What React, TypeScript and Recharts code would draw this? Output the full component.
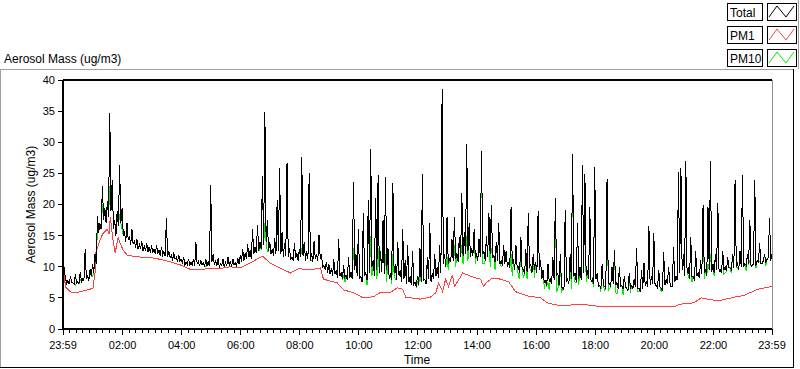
import React from 'react';
import { LineChart, Line, XAxis, YAxis, ReferenceLine } from 'recharts';

// ---- data ----
const seriesNames = ['Total', 'PM1', 'PM10'];
const timeLabels = ['23:59', '02:00', '04:00', '06:00', '08:00', '10:00', '12:00', '14:00', '16:00', '18:00', '20:00', '22:00', '23:59'];
const majorTickMinutes = [0, 121, 241, 361, 481, 601, 721, 841, 961, 1081, 1201, 1321, 1440];
const yTicks = [0, 5, 10, 15, 20, 25, 30, 35, 40];
const sampleStepMin = 5;

// Total aerosol mass read every 5 minutes from 23:59 (local peaks / levels)
const totalValues = [
  12.3, 8.2, 7.8, 8.5, 7.4, 8.8, 7.6, 9.2, 8.0, 12.8, 8.5, 9.6,
  10.5, 12.0, 18.2, 17.0, 23.0, 19.5, 20.5, 34.7, 24.0, 17.5, 19.0, 26.3,
  19.5, 15.5, 17.0, 15.0, 16.0, 14.2, 14.5, 13.6, 14.2, 13.3, 13.8, 13.2,
  13.4, 12.8, 13.5, 12.7, 13.2, 12.4, 17.8, 12.5, 11.8, 12.3, 11.5, 11.9,
  11.2, 11.6, 10.8, 11.3, 10.7, 11.2, 13.9, 10.9, 11.0, 10.6, 11.2, 10.8,
  23.2, 12.0, 11.0, 11.4, 10.5, 11.2, 10.7, 11.6, 10.9, 11.3, 10.6, 11.4,
  11.8, 12.8, 12.2, 13.6, 12.6, 16.0, 13.2, 16.7, 14.0, 24.5, 34.8, 17.5,
  14.0, 12.8, 14.6, 20.7, 25.9, 15.6, 13.8, 26.7, 13.0, 11.5, 13.8, 12.2,
  12.8, 27.6, 14.0, 12.5, 25.0, 12.2, 14.2, 12.0, 15.1, 11.8, 10.2, 10.8,
  10.5, 9.8, 11.2, 9.5, 14.5, 9.0, 10.2, 8.6, 11.5, 9.2, 23.6, 12.0,
  16.0, 8.5, 18.6, 9.0, 20.7, 28.9, 11.0, 21.0, 24.7, 12.5, 17.5, 24.4,
  13.0, 9.0, 23.4, 10.5, 14.0, 9.5, 16.0, 11.0, 13.5, 8.5, 12.5, 7.5,
  8.5, 13.0, 24.9, 8.0, 11.5, 17.0, 9.0, 12.0, 10.0, 13.5, 38.6, 12.0,
  18.0, 11.2, 14.5, 18.0, 12.2, 14.8, 21.8, 15.5, 29.7, 17.0, 13.0, 16.0,
  12.0, 14.5, 28.6, 12.5, 15.0, 18.6, 19.9, 11.8, 14.0, 17.0, 11.0, 13.5,
  12.5, 10.5, 19.6, 11.0, 13.5, 10.0, 14.8, 9.5, 12.8, 18.6, 10.5, 12.0,
  10.8, 19.0, 11.0, 9.5, 7.8, 10.5, 8.0, 11.5, 21.0, 9.0, 12.0, 6.5,
  19.1, 8.0, 12.0, 28.1, 9.0, 17.0, 10.0, 26.3, 24.9, 9.5, 19.6, 8.0,
  26.0, 9.0, 7.0, 10.5, 6.8, 24.1, 7.2, 10.0, 12.7, 7.5, 10.0, 7.0,
  8.5, 6.5, 9.0, 7.0, 8.0, 13.0, 6.5, 9.5, 10.6, 7.5, 16.5, 8.5,
  15.4, 7.0, 9.5, 6.5, 12.4, 8.0, 10.0, 6.8, 13.2, 8.5, 25.2, 25.8,
  12.0, 27.0, 10.0, 14.8, 8.5, 12.5, 9.0, 11.0, 19.9, 9.5, 19.6, 27.0,
  10.5, 12.0, 20.2, 9.5, 12.5, 10.0, 11.5, 9.8, 12.0, 23.9, 10.5, 12.5,
  24.7, 10.5, 12.0, 17.5, 10.2, 23.9, 11.0, 13.8, 10.5, 12.0, 11.2, 17.8, 12.0,
];

// Total aerosol mass between those samples (2.5 min later): the low points of the trace
const totalTroughs = [
  9.5, 7.3, 7.2, 7.5, 7.2, 7.4, 7.3, 7.6, 7.8, 8.0, 7.8, 8.5,
  9.0, 10.5, 15.5, 16.0, 17.5, 17.0, 18.0, 19.0, 16.0, 15.0, 16.5, 17.0,
  15.0, 14.0, 14.3, 13.5, 13.6, 13.0, 12.8, 12.9, 12.6, 12.5, 12.3, 12.2,
  12.3, 12.0, 12.1, 11.8, 11.9, 11.7, 11.6, 11.5, 11.0, 11.2, 10.8, 10.9,
  10.5, 10.2, 10.4, 10.1, 10.3, 10.2, 10.4, 10.1, 10.3, 10.0, 10.2, 10.1,
  10.8, 10.3, 10.1, 10.0, 10.2, 9.9, 10.1, 10.2, 10.0, 10.3, 10.1, 10.4,
  10.8, 11.0, 11.2, 11.5, 11.3, 12.0, 12.2, 12.5, 12.8, 13.5, 14.0, 12.5,
  12.0, 11.8, 12.0, 12.5, 12.0, 11.5, 11.8, 11.6, 11.2, 11.0, 11.4, 11.0,
  11.5, 11.8, 11.0, 11.2, 11.0, 10.8, 11.2, 11.0, 11.4, 10.0, 9.5, 9.0,
  8.8, 8.5, 8.8, 8.2, 8.5, 8.0, 8.3, 7.9, 8.2, 8.0, 9.5, 8.5,
  8.0, 7.5, 8.5, 7.8, 9.0, 10.0, 8.5, 9.5, 9.0, 9.2, 8.8, 9.5,
  8.0, 7.8, 9.0, 7.9, 8.5, 7.5, 8.0, 7.2, 7.5, 7.0, 7.2, 6.8,
  7.0, 7.5, 7.8, 7.2, 8.0, 7.5, 8.0, 8.5, 8.2, 9.0, 10.5, 10.0,
  10.5, 10.8, 11.0, 11.2, 10.8, 11.5, 11.8, 12.0, 12.5, 11.5, 11.8, 11.5,
  11.0, 11.5, 12.0, 11.0, 11.5, 12.0, 11.5, 10.8, 11.0, 10.5, 10.2, 10.5,
  10.0, 9.8, 10.5, 9.5, 9.8, 9.0, 9.5, 8.8, 9.2, 9.8, 9.0, 9.5,
  9.0, 9.5, 8.0, 7.5, 7.0, 7.5, 7.2, 7.8, 8.5, 7.0, 6.8, 6.3,
  7.5, 7.2, 8.0, 8.5, 7.5, 8.0, 7.8, 9.0, 8.5, 8.0, 7.5, 7.2,
  8.0, 6.8, 6.5, 7.0, 6.5, 7.5, 6.8, 7.2, 7.0, 6.5, 6.8, 6.5,
  6.8, 6.2, 6.5, 6.4, 6.8, 6.5, 6.0, 6.5, 7.0, 6.8, 7.0, 7.2,
  7.0, 6.5, 6.8, 6.3, 7.0, 7.2, 7.5, 6.8, 7.5, 7.8, 9.0, 9.5,
  8.5, 9.0, 8.0, 8.5, 7.8, 8.5, 8.2, 8.8, 9.0, 8.5, 9.5, 9.2,
  9.0, 9.5, 9.2, 9.0, 9.5, 9.3, 9.8, 9.5, 9.8, 10.0, 9.5, 10.0,
  10.0, 10.2, 10.5, 10.0, 10.5, 10.2, 10.8, 10.5, 11.0, 10.8, 11.5, 11.0,
];

// PM10 equals Total except at these minutes: [minute, PM10 value]
const pm10Departures: [number, number][] = [
  [25, 7.0], [35, 8.0], [60, 8.5], [70, 16.5], [80, 20.0], [95, 23.0], [115, 18.5], [120, 16.0],
  [290, 10.0], [400, 13.0], [410, 17.0], [415, 12.5], [485, 13.0], [505, 11.0], [570, 8.5],
  [572.5, 7.5], [590, 13.0], [617.5, 7.0], [625, 15.0], [627.5, 8.5], [637.5, 8.0], [640, 13.0],
  [655, 12.0], [657.5, 7.5], [667.5, 7.2], [670, 12.0], [675, 8.0], [720, 7.5],
  [725, 9.0], [780, 11.5], [782.5, 9.5], [795, 13.5], [797.5, 10.0], [810, 13.5], [812.5, 10.5],
  [820, 15.0], [822.5, 11.0], [837.5, 10.5], [852.5, 10.5], [855, 10.5], [867.5, 10.0], [870, 13.0],
  [877.5, 9.5], [890, 10.0], [910, 12.0], [912.5, 8.5], [925, 8.5], [927.5, 8.0], [935, 8.4],
  [942.5, 8.0], [950, 9.5], [957.5, 8.2], [977.5, 6.5], [985, 7.5], [987.5, 6.3], [1002.5, 6.0],
  [1005, 6.5], [1012.5, 5.8], [1032.5, 6.5], [1040, 7.5], [1047.5, 7.0], [1062.5, 7.5], [1065, 8.5],
  [1077.5, 6.8], [1092.5, 6.0], [1100, 6.2], [1107.5, 6.2], [1110, 6.5], [1122.5, 5.8], [1125, 5.6],
  [1137.5, 5.5], [1152.5, 5.8], [1167.5, 6.0], [1170, 6.0], [1215, 6.0], [1247.5, 8.0],
  [1270, 8.5], [1277.5, 7.5], [1302.5, 8.0], [1310, 10.5], [1315, 12.0], [1322.5, 8.5],
  [1342.5, 8.8], [1345, 9.0], [1357.5, 9.0], [1370, 9.8], [1387.5, 9.3], [1395, 11.0],
  [1407.5, 9.8], [1415, 10.8], [1427.5, 10.2],
];

// PM1: [minute, value]
const pm1Points: [number, number][] = [
  [0, 9.8], [4, 7.5], [6, 6.7], [14, 6.0], [24, 5.8], [35, 6.0], [45, 6.2], [55, 6.4], [61, 6.6],
  [65, 9.0], [67, 12.4], [75, 14.3], [81, 15.3], [90, 16.0], [94, 15.2], [96, 18.0], [102, 14.0],
  [106, 12.2], [112, 14.8], [116, 13.8], [122, 12.7], [130, 11.9], [146, 11.6], [177, 11.5],
  [197, 11.2], [218, 10.8], [238, 10.3], [258, 9.6], [279, 9.5], [299, 9.8], [319, 9.7],
  [340, 10.0], [360, 9.8], [380, 10.6], [405, 11.7], [421, 10.6], [441, 9.8], [462, 9.0],
  [478, 9.7], [502, 9.5], [523, 9.8], [529, 8.0], [557, 7.4], [570, 6.3], [590, 5.8], [610, 5.0],
  [631, 5.2], [645, 5.9], [665, 5.9], [679, 6.6], [690, 6.4], [696, 5.1], [726, 4.8], [746, 5.1],
  [757, 5.8], [763, 7.4], [771, 6.0], [777, 8.0], [783, 6.8], [791, 8.7], [795, 6.8], [803, 7.8],
  [812, 9.0], [818, 8.8], [834, 8.3], [848, 8.0], [854, 6.9], [862, 7.6], [873, 8.2], [889, 8.0],
  [905, 7.6], [919, 6.0], [944, 5.3], [970, 5.0], [984, 4.2], [1011, 3.7], [1052, 4.0],
  [1092, 3.6], [1159, 3.6], [1241, 3.6], [1255, 4.0], [1281, 4.2], [1296, 5.0], [1310, 4.8],
  [1330, 4.5], [1363, 5.1], [1383, 5.4], [1412, 6.4], [1432, 6.7], [1440, 6.9],
];

const colors = { Total: '#000000', PM1: '#ff4040', PM10: '#00ee00' };

// ---- tables for the library ----
const pm10Map = new Map(pm10Departures.map(([m, v]) => [m, v]));
const mainData: { t: number; total: number; pm10: number }[] = [];
totalValues.forEach((v, i) => {
  const t = i * sampleStepMin;
  mainData.push({ t, total: v, pm10: pm10Map.has(t) ? (pm10Map.get(t) as number) : v });
  if (i < totalTroughs.length) {
    const tt = t + sampleStepMin / 2;
    const tv = totalTroughs[i];
    mainData.push({ t: tt, total: tv, pm10: pm10Map.has(tt) ? (pm10Map.get(tt) as number) : tv });
  }
});
const pm1Data = pm1Points.map(([t, v]) => ({ t, pm1: v }));

const minorTicks: number[] = [];
for (let k = 0; k < majorTickMinutes.length - 1; k++) {
  const a = majorTickMinutes[k];
  const b = majorTickMinutes[k + 1];
  for (let j = 1; j < 9; j++) minorTicks.push(a + ((b - a) * j) / 9);
}
const allXTicks = [...majorTickMinutes, ...minorTicks].sort((p, q) => p - q);

const FONT = '"Liberation Sans", Arial, sans-serif';

const XTick = (props: any) => {
  const { x, y, payload } = props;
  const idx = majorTickMinutes.indexOf(payload.value);
  const isMajor = idx >= 0;
  return (
    <g>
      <line x1={x} x2={x} y1={y} y2={y + (isMajor ? 6 : 4)} stroke="#000" strokeWidth={1} />
      {isMajor && (
        <text x={x} y={y + 20} textAnchor="middle" fontSize={11} fontFamily={FONT} fill="#000">
          {timeLabels[idx]}
        </text>
      )}
    </g>
  );
};

const legendRows = [
  { name: seriesNames[0], color: colors.Total, top: 3 },
  { name: seriesNames[1], color: colors.PM1, top: 26 },
  { name: seriesNames[2], color: colors.PM10, top: 49 },
];

export default function App() {
  return (
    <div style={{ position: 'absolute', left: 0, top: 0, width: 800, height: 369, background: '#fff', fontFamily: FONT }}>
      <div style={{ position: 'absolute', left: 0, top: 0, shapeRendering: 'crispEdges' } as any}>
        <LineChart width={800} height={369} margin={{ top: 80, right: 28, left: 0, bottom: 0 }} data={mainData}>
          <XAxis
            dataKey="t"
            type="number"
            domain={[0, 1440]}
            ticks={allXTicks}
            interval={0}
            tickSize={0}
            tickMargin={0}
            tickLine={false}
            tick={<XTick />}
            height={40}
            axisLine={{ stroke: '#000', strokeWidth: 2 }}
            allowDataOverflow
          />
          <YAxis
            type="number"
            domain={[0, 40]}
            ticks={yTicks}
            interval={0}
            width={63}
            tickSize={5}
            tickMargin={3}
            tickLine={{ stroke: '#000' }}
            axisLine={{ stroke: '#000', strokeWidth: 2 }}
            tick={{ fontSize: 11, fontFamily: FONT, fill: '#000' }}
          />
          <ReferenceLine y={40} stroke="#000" strokeWidth={2} />
          <ReferenceLine x={1440} stroke="#909090" strokeWidth={1} />
          <Line data={pm1Data} dataKey="pm1" name="PM1" stroke={colors.PM1} strokeWidth={1} dot={false} isAnimationActive={false} />
          <Line dataKey="pm10" name="PM10" stroke={colors.PM10} strokeWidth={1} dot={false} isAnimationActive={false} />
          <Line dataKey="total" name="Total" stroke={colors.Total} strokeWidth={1} dot={false} isAnimationActive={false} />
        </LineChart>
      </div>
      <svg width={800} height={369} style={{ position: 'absolute', left: 0, top: 0, pointerEvents: 'none' }}>
        <line x1={0} x2={794} y1={69.5} y2={69.5} stroke="#a0a0a0" />
        <line x1={0.5} x2={0.5} y1={69} y2={368} stroke="#a0a0a0" />
        <line x1={0} x2={794} y1={367.5} y2={367.5} stroke="#000" />
        <line x1={793.5} x2={793.5} y1={69} y2={368} stroke="#000" />
        <line x1={798.5} x2={798.5} y1={0} y2={69} stroke="#a0a0a0" />
        <text x={4} y={63} fontSize={12} fontFamily={FONT} fill="#000">Aerosol Mass (ug/m3)</text>
        <text x={35} y={204.5} fontSize={12} fontFamily={FONT} fill="#000" textAnchor="middle" transform="rotate(-90 35 204.5)">
          Aerosol Mass (ug/m3)
        </text>
        <text x={417} y={364} fontSize={12} fontFamily={FONT} fill="#000" textAnchor="middle">Time</text>
        {legendRows.map((r) => (
          <g key={r.name}>
            <rect x={727.5} y={r.top + 0.5} width={35} height={17} fill="#fff" stroke="#000" />
            <text x={730} y={r.top + 14} fontSize={12} fontFamily={FONT} fill="#000">{r.name}</text>
            <rect x={767.5} y={r.top + 0.5} width={29} height={17} fill="#fff" stroke="#000" />
            <polyline
              points={`${769},${r.top + 14} ${777},${r.top + 3} ${786},${r.top + 14} ${794},${r.top + 3}`}
              fill="none"
              stroke={r.color}
              strokeWidth={1}
            />
          </g>
        ))}
      </svg>
    </div>
  );
}
